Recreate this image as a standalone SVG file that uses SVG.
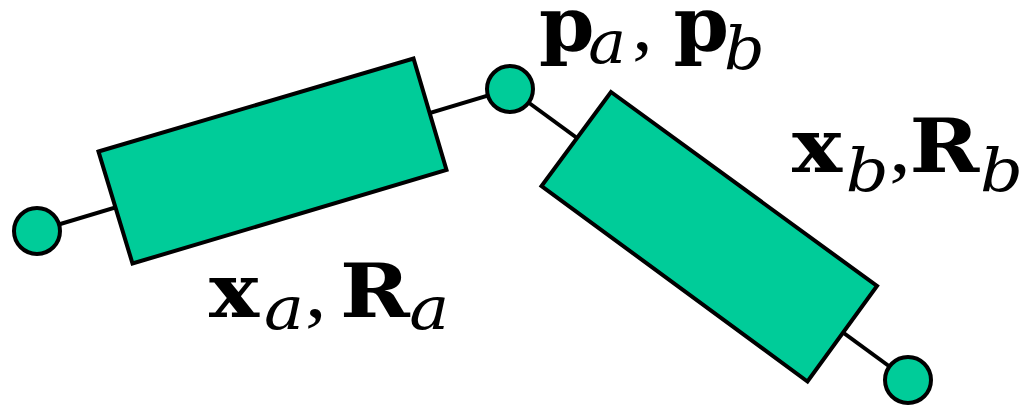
<svg xmlns="http://www.w3.org/2000/svg" width="1022" height="405" viewBox="0 0 1022 405">
<style>
.body{fill:#00CC99;stroke:#000;stroke-width:4;stroke-linejoin:miter}
.joint{fill:#00CC99;stroke:#000;stroke-width:4}
.link{stroke:#000;stroke-width:4;fill:none}
.lbl{font-family:"Liberation Serif","DejaVu Serif",serif;font-size:77px;fill:#000}
.b{font-family:"DejaVu Serif","Liberation Serif",serif;font-weight:bold;font-size:75px}
.i{font-family:"DejaVu Serif","Liberation Serif",serif;font-style:italic;font-size:60px}
</style>
<rect width="1022" height="405" fill="#fff"/>
<g id="connectors">
<line class="link" x1="37" y1="231" x2="510" y2="89"/>
<line class="link" x1="510" y1="89" x2="908" y2="380"/>
</g>
<g id="body-a"><polygon class="body" points="98.5,151.5 413.5,58.5 446.5,170 132.5,263.5"/></g>
<g id="body-b"><polygon class="body" points="611,92 877,286 807.5,381.5 541.5,186"/></g>
<g id="joint-left"><circle class="joint" cx="37" cy="231" r="23"/></g>
<g id="joint-mid"><circle class="joint" cx="510" cy="89" r="23"/></g>
<g id="joint-right"><circle class="joint" cx="908" cy="380" r="23"/></g>
<g id="label-pab" transform="translate(540 0) scale(1.06 1) translate(-540 0)"><text class="lbl"><tspan class="b" x="539" y="50">p</tspan><tspan class="i" x="585.5" y="63">a</tspan><tspan x="627" y="50">,</tspan><tspan class="b" x="666" y="50">p</tspan><tspan class="i" x="713.5" y="69">b</tspan></text></g>
<g id="label-b" transform="translate(793 0) scale(1.12 1) translate(-793 0)"><text class="lbl"><tspan class="b" x="792" y="172">x</tspan><tspan class="i" x="840" y="191">b</tspan><tspan x="879" y="172">,</tspan><tspan class="b" x="897" y="172">R</tspan><tspan class="i" x="960" y="191">b</tspan></text></g>
<g id="label-a" transform="translate(210 0) scale(1.12 1) translate(-210 0)"><text class="lbl"><tspan class="b" x="209" y="317">x</tspan><tspan class="i" x="258.2" y="329">a</tspan><tspan x="294.8" y="317">,</tspan><tspan class="b" x="326" y="317">R</tspan><tspan class="i" x="388" y="329">a</tspan></text></g>
</svg>
